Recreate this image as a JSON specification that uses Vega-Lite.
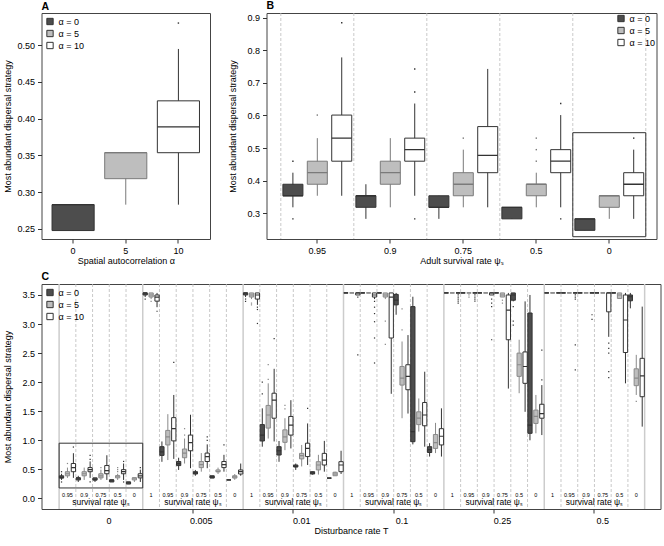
{
"$schema": "https://vega.github.io/schema/vega-lite/v6.json",
"padding": {"left": 2.5, "top": 0, "right": 0, "bottom": 0},
"config": {
 "view": {"stroke": "#444444", "strokeWidth": 1},
 "font": "Liberation Sans",
 "axis": {"labelFont": "Liberation Sans", "titleFont": "Liberation Sans", "labelFontSize": 9, "titleFontSize": 9, "titleFontWeight": "normal", "labelColor": "#000000", "titleColor": "#000000", "tickColor": "#333333", "tickSize": 4, "domain": false, "grid": false, "labelOverlap": false},
 "axisY": {"labelPadding": 3, "titlePadding": 9.7, "labelOverlap": false, "tickCount": 20},
 "axisX": {"labelPadding": 3, "titlePadding": 1, "labelAngle": 0},
 "title": {"font": "Liberation Sans", "fontSize": 10.5, "fontWeight": "bold", "anchor": "start", "frame": "group", "offset": 1, "color": "#000000"},
 "legend": {"symbolType": "square", "labelFont": "Liberation Sans", "labelFontSize": 9, "symbolSize": 40, "symbolStrokeColor": "#333333", "symbolStrokeWidth": 1, "rowPadding": 1, "offset": 4, "padding": 0, "labelOffset": 4, "labelColor": "#000000"},
 "text": {"font": "Liberation Sans"}
},
"datasets": {
 "B": [
  {"s":"0.95","a":0,"lo":0.3182,"q1":0.3536,"med":0.3536,"q3":0.3889,"hi":0.4243},
  {"s":"0.95","a":5,"lo":0.3536,"q1":0.3889,"med":0.4243,"q3":0.4596,"hi":0.5303},
  {"s":"0.95","a":10,"lo":0.3536,"q1":0.4596,"med":0.5303,"q3":0.6010,"hi":0.7778},
  {"s":"0.9","a":0,"lo":0.2828,"q1":0.3182,"med":0.3536,"q3":0.3536,"hi":0.3889},
  {"s":"0.9","a":5,"lo":0.3182,"q1":0.3889,"med":0.4243,"q3":0.4596,"hi":0.5303},
  {"s":"0.9","a":10,"lo":0.3536,"q1":0.4596,"med":0.4950,"q3":0.5303,"hi":0.6364},
  {"s":"0.75","a":0,"lo":0.2828,"q1":0.3182,"med":0.3182,"q3":0.3536,"hi":0.3536},
  {"s":"0.75","a":5,"lo":0.3182,"q1":0.3536,"med":0.3889,"q3":0.4243,"hi":0.4950},
  {"s":"0.75","a":10,"lo":0.3182,"q1":0.4243,"med":0.4773,"q3":0.5657,"hi":0.7425},
  {"s":"0.5","a":0,"lo":0.2828,"q1":0.2828,"med":0.3182,"q3":0.3182,"hi":0.3182},
  {"s":"0.5","a":5,"lo":0.3182,"q1":0.3536,"med":0.3889,"q3":0.3889,"hi":0.4243},
  {"s":"0.5","a":10,"lo":0.3182,"q1":0.4243,"med":0.4596,"q3":0.4950,"hi":0.6010},
  {"s":"0","a":0,"lo":0.2475,"q1":0.2475,"med":0.2828,"q3":0.2828,"hi":0.2828},
  {"s":"0","a":5,"lo":0.2828,"q1":0.3182,"med":0.3536,"q3":0.3536,"hi":0.3536},
  {"s":"0","a":10,"lo":0.2828,"q1":0.3536,"med":0.3889,"q3":0.4243,"hi":0.4950}
 ],
 "Bout": [
  {"s":"0.95","a":0,"v":0.4596},{"s":"0.95","a":0,"v":0.2828},{"s":"0.95","a":5,"v":0.6010},{"s":"0.95","a":10,"v":0.8839},
  {"s":"0.9","a":10,"v":0.6718},{"s":"0.9","a":10,"v":0.7425},{"s":"0.9","a":10,"v":0.2828},
  {"s":"0.75","a":5,"v":0.5303},
  {"s":"0.5","a":5,"v":0.4596},{"s":"0.5","a":5,"v":0.4950},{"s":"0.5","a":5,"v":0.5303},{"s":"0.5","a":10,"v":0.6364},{"s":"0.5","a":10,"v":0.2828},
  {"s":"0","a":10,"v":0.5303}
 ],
 "Bcat": [{"s":"0.95"},{"s":"0.9"},{"s":"0.75"},{"s":"0.5"},{"s":"0"}],
 "C": [
  {"sg":"0|0.95","a":0,"lo":0.3182,"q1":0.3536,"med":0.3536,"q3":0.3889,"hi":0.4243},
  {"sg":"0|0.95","a":5,"lo":0.3536,"q1":0.3889,"med":0.4243,"q3":0.4596,"hi":0.5303},
  {"sg":"0|0.95","a":10,"lo":0.3536,"q1":0.4596,"med":0.5303,"q3":0.6010,"hi":0.7778},
  {"sg":"0|0.9","a":0,"lo":0.2828,"q1":0.3182,"med":0.3536,"q3":0.3536,"hi":0.3889},
  {"sg":"0|0.9","a":5,"lo":0.3182,"q1":0.3889,"med":0.4243,"q3":0.4596,"hi":0.5303},
  {"sg":"0|0.9","a":10,"lo":0.3536,"q1":0.4596,"med":0.4950,"q3":0.5303,"hi":0.6364},
  {"sg":"0|0.75","a":0,"lo":0.2828,"q1":0.3182,"med":0.3182,"q3":0.3536,"hi":0.3536},
  {"sg":"0|0.75","a":5,"lo":0.3182,"q1":0.3536,"med":0.3889,"q3":0.4243,"hi":0.4950},
  {"sg":"0|0.75","a":10,"lo":0.3182,"q1":0.4243,"med":0.4773,"q3":0.5657,"hi":0.7425},
  {"sg":"0|0.5","a":0,"lo":0.2828,"q1":0.2828,"med":0.3182,"q3":0.3182,"hi":0.3182},
  {"sg":"0|0.5","a":5,"lo":0.3182,"q1":0.3536,"med":0.3889,"q3":0.3889,"hi":0.4243},
  {"sg":"0|0.5","a":10,"lo":0.3182,"q1":0.4243,"med":0.4596,"q3":0.4950,"hi":0.6010},
  {"sg":"0|0","a":0,"lo":0.2475,"q1":0.2475,"med":0.2828,"q3":0.2828,"hi":0.2828},
  {"sg":"0|0","a":5,"lo":0.2828,"q1":0.3182,"med":0.3536,"q3":0.3536,"hi":0.3536},
  {"sg":"0|0","a":10,"lo":0.2828,"q1":0.3536,"med":0.3889,"q3":0.4243,"hi":0.4950},

  {"sg":"0.005|1","a":0,"lo":3.4648,"q1":3.5001,"med":3.5355,"q3":3.5355,"hi":3.5355},
  {"sg":"0.005|1","a":5,"lo":3.4294,"q1":3.4648,"med":3.5001,"q3":3.5355,"hi":3.5355},
  {"sg":"0.005|1","a":10,"lo":3.29,"q1":3.3941,"med":3.4648,"q3":3.5001,"hi":3.5355},
  {"sg":"0.005|0.95","a":0,"lo":0.63,"q1":0.74,"med":0.80,"q3":0.89,"hi":0.98},
  {"sg":"0.005|0.95","a":5,"lo":0.66,"q1":0.92,"med":1.06,"q3":1.17,"hi":1.45},
  {"sg":"0.005|0.95","a":10,"lo":0.68,"q1":0.99,"med":1.20,"q3":1.39,"hi":1.78},
  {"sg":"0.005|0.9","a":0,"lo":0.49,"q1":0.565,"med":0.60,"q3":0.635,"hi":0.70},
  {"sg":"0.005|0.9","a":5,"lo":0.60,"q1":0.70,"med":0.78,"q3":0.85,"hi":1.03},
  {"sg":"0.005|0.9","a":10,"lo":0.52,"q1":0.82,"med":0.96,"q3":1.09,"hi":1.44},
  {"sg":"0.005|0.75","a":0,"lo":0.39,"q1":0.42,"med":0.44,"q3":0.46,"hi":0.49},
  {"sg":"0.005|0.75","a":5,"lo":0.46,"q1":0.53,"med":0.58,"q3":0.635,"hi":0.78},
  {"sg":"0.005|0.75","a":10,"lo":0.52,"q1":0.635,"med":0.72,"q3":0.78,"hi":0.93},
  {"sg":"0.005|0.5","a":0,"lo":0.35,"q1":0.35,"med":0.37,"q3":0.39,"hi":0.39},
  {"sg":"0.005|0.5","a":5,"lo":0.42,"q1":0.46,"med":0.46,"q3":0.49,"hi":0.53},
  {"sg":"0.005|0.5","a":10,"lo":0.46,"q1":0.53,"med":0.58,"q3":0.635,"hi":0.75},
  {"sg":"0.005|0","a":0,"lo":0.3182,"q1":0.3182,"med":0.3182,"q3":0.3182,"hi":0.3182},
  {"sg":"0.005|0","a":5,"lo":0.32,"q1":0.35,"med":0.37,"q3":0.39,"hi":0.42},
  {"sg":"0.005|0","a":10,"lo":0.39,"q1":0.42,"med":0.46,"q3":0.49,"hi":0.60},

  {"sg":"0.01|1","a":0,"lo":3.4648,"q1":3.5001,"med":3.5355,"q3":3.5355,"hi":3.5355},
  {"sg":"0.01|1","a":5,"lo":3.4294,"q1":3.4648,"med":3.5001,"q3":3.5355,"hi":3.5355},
  {"sg":"0.01|1","a":10,"lo":3.33,"q1":3.4294,"med":3.5001,"q3":3.5355,"hi":3.5355},
  {"sg":"0.01|0.95","a":0,"lo":0.89,"q1":0.988,"med":1.09,"q3":1.27,"hi":1.55},
  {"sg":"0.01|0.95","a":5,"lo":1.03,"q1":1.21,"med":1.435,"q3":1.60,"hi":1.98},
  {"sg":"0.01|0.95","a":10,"lo":0.98,"q1":1.38,"med":1.69,"q3":1.81,"hi":2.23},
  {"sg":"0.01|0.9","a":0,"lo":0.63,"q1":0.747,"med":0.82,"q3":0.89,"hi":0.988},
  {"sg":"0.01|0.9","a":5,"lo":0.83,"q1":0.965,"med":1.06,"q3":1.18,"hi":1.38},
  {"sg":"0.01|0.9","a":10,"lo":0.86,"q1":1.09,"med":1.26,"q3":1.41,"hi":1.69},
  {"sg":"0.01|0.75","a":0,"lo":0.49,"q1":0.54,"med":0.55,"q3":0.575,"hi":0.60},
  {"sg":"0.01|0.75","a":5,"lo":0.55,"q1":0.68,"med":0.735,"q3":0.775,"hi":0.92},
  {"sg":"0.01|0.75","a":10,"lo":0.575,"q1":0.72,"med":0.86,"q3":0.95,"hi":1.29},
  {"sg":"0.01|0.5","a":0,"lo":0.41,"q1":0.42,"med":0.44,"q3":0.46,"hi":0.46},
  {"sg":"0.01|0.5","a":5,"lo":0.41,"q1":0.49,"med":0.575,"q3":0.632,"hi":0.75},
  {"sg":"0.01|0.5","a":10,"lo":0.46,"q1":0.575,"med":0.66,"q3":0.775,"hi":0.99},
  {"sg":"0.01|0","a":0,"lo":0.35,"q1":0.35,"med":0.35,"q3":0.35,"hi":0.35},
  {"sg":"0.01|0","a":5,"lo":0.39,"q1":0.39,"med":0.42,"q3":0.45,"hi":0.46},
  {"sg":"0.01|0","a":10,"lo":0.42,"q1":0.46,"med":0.575,"q3":0.632,"hi":0.82},

  {"sg":"0.1|1","a":0,"lo":3.5355,"q1":3.5355,"med":3.5355,"q3":3.5355,"hi":3.5355},
  {"sg":"0.1|1","a":5,"lo":3.5355,"q1":3.5355,"med":3.5355,"q3":3.5355,"hi":3.5355},
  {"sg":"0.1|1","a":10,"lo":3.5001,"q1":3.5001,"med":3.5355,"q3":3.5355,"hi":3.5355},
  {"sg":"0.1|0.95","a":0,"lo":3.5355,"q1":3.5355,"med":3.5355,"q3":3.5355,"hi":3.5355},
  {"sg":"0.1|0.95","a":5,"lo":3.5355,"q1":3.5355,"med":3.5355,"q3":3.5355,"hi":3.5355},
  {"sg":"0.1|0.95","a":10,"lo":3.4294,"q1":3.4648,"med":3.5001,"q3":3.5355,"hi":3.5355},
  {"sg":"0.1|0.9","a":0,"lo":3.5355,"q1":3.5355,"med":3.5355,"q3":3.5355,"hi":3.5355},
  {"sg":"0.1|0.9","a":5,"lo":3.4294,"q1":3.4648,"med":3.5001,"q3":3.5355,"hi":3.5355},
  {"sg":"0.1|0.9","a":10,"lo":1.80,"q1":2.76,"med":3.4648,"q3":3.5355,"hi":3.5355},
  {"sg":"0.1|0.75","a":0,"lo":3.16,"q1":3.33,"med":3.41,"q3":3.51,"hi":3.5355},
  {"sg":"0.1|0.75","a":5,"lo":1.38,"q1":1.95,"med":2.07,"q3":2.27,"hi":2.70},
  {"sg":"0.1|0.75","a":10,"lo":1.46,"q1":1.87,"med":2.10,"q3":2.30,"hi":2.81},
  {"sg":"0.1|0.5","a":0,"lo":0.93,"q1":0.976,"med":1.15,"q3":3.30,"hi":3.47},
  {"sg":"0.1|0.5","a":5,"lo":1.15,"q1":1.27,"med":1.38,"q3":1.49,"hi":1.72},
  {"sg":"0.1|0.5","a":10,"lo":0.89,"q1":1.25,"med":1.435,"q3":1.65,"hi":2.18},
  {"sg":"0.1|0","a":0,"lo":0.72,"q1":0.79,"med":0.84,"q3":0.89,"hi":0.95},
  {"sg":"0.1|0","a":5,"lo":0.78,"q1":0.86,"med":0.96,"q3":1.10,"hi":1.30},
  {"sg":"0.1|0","a":10,"lo":0.72,"q1":0.92,"med":1.07,"q3":1.20,"hi":1.55},

  {"sg":"0.25|1","a":0,"lo":3.5355,"q1":3.5355,"med":3.5355,"q3":3.5355,"hi":3.5355},
  {"sg":"0.25|1","a":5,"lo":3.5355,"q1":3.5355,"med":3.5355,"q3":3.5355,"hi":3.5355},
  {"sg":"0.25|1","a":10,"lo":3.5355,"q1":3.5355,"med":3.5355,"q3":3.5355,"hi":3.5355},
  {"sg":"0.25|0.95","a":0,"lo":3.5355,"q1":3.5355,"med":3.5355,"q3":3.5355,"hi":3.5355},
  {"sg":"0.25|0.95","a":5,"lo":3.5355,"q1":3.5355,"med":3.5355,"q3":3.5355,"hi":3.5355},
  {"sg":"0.25|0.95","a":10,"lo":3.5355,"q1":3.5355,"med":3.5355,"q3":3.5355,"hi":3.5355},
  {"sg":"0.25|0.9","a":0,"lo":3.5355,"q1":3.5355,"med":3.5355,"q3":3.5355,"hi":3.5355},
  {"sg":"0.25|0.9","a":5,"lo":3.5355,"q1":3.5355,"med":3.5355,"q3":3.5355,"hi":3.5355},
  {"sg":"0.25|0.9","a":10,"lo":3.5001,"q1":3.5001,"med":3.5355,"q3":3.5355,"hi":3.5355},
  {"sg":"0.25|0.75","a":0,"lo":3.5355,"q1":3.5355,"med":3.5355,"q3":3.5355,"hi":3.5355},
  {"sg":"0.25|0.75","a":5,"lo":3.4648,"q1":3.4648,"med":3.5001,"q3":3.5355,"hi":3.5355},
  {"sg":"0.25|0.75","a":10,"lo":1.89,"q1":2.73,"med":3.24,"q3":3.5001,"hi":3.5355},
  {"sg":"0.25|0.5","a":0,"lo":3.39,"q1":3.41,"med":3.5001,"q3":3.5355,"hi":3.5355},
  {"sg":"0.25|0.5","a":5,"lo":1.81,"q1":2.10,"med":2.30,"q3":2.50,"hi":2.73},
  {"sg":"0.25|0.5","a":10,"lo":1.49,"q1":1.98,"med":2.27,"q3":2.52,"hi":3.39},
  {"sg":"0.25|0","a":0,"lo":1.00,"q1":1.12,"med":1.26,"q3":3.19,"hi":3.5001},
  {"sg":"0.25|0","a":5,"lo":1.12,"q1":1.29,"med":1.41,"q3":1.52,"hi":1.78},
  {"sg":"0.25|0","a":10,"lo":1.09,"q1":1.38,"med":1.46,"q3":1.62,"hi":1.95},

  {"sg":"0.5|1","a":0,"lo":3.5355,"q1":3.5355,"med":3.5355,"q3":3.5355,"hi":3.5355},
  {"sg":"0.5|1","a":5,"lo":3.5355,"q1":3.5355,"med":3.5355,"q3":3.5355,"hi":3.5355},
  {"sg":"0.5|1","a":10,"lo":3.5355,"q1":3.5355,"med":3.5355,"q3":3.5355,"hi":3.5355},
  {"sg":"0.5|0.95","a":0,"lo":3.5355,"q1":3.5355,"med":3.5355,"q3":3.5355,"hi":3.5355},
  {"sg":"0.5|0.95","a":5,"lo":3.5355,"q1":3.5355,"med":3.5355,"q3":3.5355,"hi":3.5355},
  {"sg":"0.5|0.95","a":10,"lo":3.5355,"q1":3.5355,"med":3.5355,"q3":3.5355,"hi":3.5355},
  {"sg":"0.5|0.9","a":0,"lo":3.5355,"q1":3.5355,"med":3.5355,"q3":3.5355,"hi":3.5355},
  {"sg":"0.5|0.9","a":5,"lo":3.5355,"q1":3.5355,"med":3.5355,"q3":3.5355,"hi":3.5355},
  {"sg":"0.5|0.9","a":10,"lo":3.5355,"q1":3.5355,"med":3.5355,"q3":3.5355,"hi":3.5355},
  {"sg":"0.5|0.75","a":0,"lo":3.5355,"q1":3.5355,"med":3.5355,"q3":3.5355,"hi":3.5355},
  {"sg":"0.5|0.75","a":5,"lo":3.5355,"q1":3.5355,"med":3.5355,"q3":3.5355,"hi":3.5355},
  {"sg":"0.5|0.75","a":10,"lo":2.78,"q1":3.21,"med":3.5355,"q3":3.5355,"hi":3.5355},
  {"sg":"0.5|0.5","a":0,"lo":3.5355,"q1":3.5355,"med":3.5355,"q3":3.5355,"hi":3.5355},
  {"sg":"0.5|0.5","a":5,"lo":3.44,"q1":3.44,"med":3.5001,"q3":3.5355,"hi":3.5355},
  {"sg":"0.5|0.5","a":10,"lo":1.98,"q1":2.51,"med":3.07,"q3":3.5001,"hi":3.5355},
  {"sg":"0.5|0","a":0,"lo":3.27,"q1":3.40,"med":3.47,"q3":3.5001,"hi":3.5355},
  {"sg":"0.5|0","a":5,"lo":1.78,"q1":1.94,"med":2.07,"q3":2.23,"hi":2.47},
  {"sg":"0.5|0","a":10,"lo":1.235,"q1":1.75,"med":2.11,"q3":2.41,"hi":3.30}
 ],
 "Cout": [
  {"sg":"0|0.95","a":0,"v":0.4596},{"sg":"0|0.95","a":0,"v":0.2828},{"sg":"0|0.95","a":5,"v":0.6010},{"sg":"0|0.95","a":10,"v":0.8839},
  {"sg":"0|0.9","a":10,"v":0.6718},{"sg":"0|0.9","a":10,"v":0.7425},{"sg":"0|0.9","a":10,"v":0.2828},
  {"sg":"0|0.75","a":5,"v":0.5303},
  {"sg":"0|0.5","a":5,"v":0.4596},{"sg":"0|0.5","a":5,"v":0.4950},{"sg":"0|0.5","a":5,"v":0.5303},{"sg":"0|0.5","a":10,"v":0.6364},{"sg":"0|0.5","a":10,"v":0.2828},
  {"sg":"0|0","a":10,"v":0.5303},
  {"sg":"0.005|1","a":0,"v":3.43},{"sg":"0.005|1","a":5,"v":3.39},{"sg":"0.005|1","a":10,"v":3.22},
  {"sg":"0.005|0.95","a":10,"v":2.34},
  {"sg":"0.005|0.9","a":5,"v":1.20},{"sg":"0.005|0.9","a":5,"v":1.09},
  {"sg":"0.005|0.75","a":10,"v":1.06},{"sg":"0.005|0.75","a":10,"v":1.00},
  {"sg":"0.005|0.5","a":10,"v":0.92},
  {"sg":"0.01|1","a":0,"v":3.43},{"sg":"0.01|1","a":0,"v":3.39},{"sg":"0.01|1","a":5,"v":3.36},{"sg":"0.01|1","a":5,"v":3.33},
  {"sg":"0.01|1","a":10,"v":3.29},{"sg":"0.01|1","a":10,"v":3.25},{"sg":"0.01|1","a":10,"v":3.01},
  {"sg":"0.01|0.95","a":0,"v":1.80},{"sg":"0.01|0.95","a":0,"v":2.00},{"sg":"0.01|0.95","a":5,"v":2.30},{"sg":"0.01|0.95","a":5,"v":2.05},{"sg":"0.01|0.95","a":10,"v":2.75},
  {"sg":"0.01|0.9","a":5,"v":1.60},{"sg":"0.01|0.9","a":5,"v":1.54},
  {"sg":"0.01|0.75","a":10,"v":1.55},
  {"sg":"0.1|1","a":10,"v":3.4648},{"sg":"0.1|1","a":10,"v":2.47},
  {"sg":"0.1|0.95","a":10,"v":3.39},{"sg":"0.1|0.95","a":10,"v":3.29},{"sg":"0.1|0.95","a":10,"v":3.18},{"sg":"0.1|0.95","a":10,"v":3.04},{"sg":"0.1|0.95","a":10,"v":2.76},{"sg":"0.1|0.95","a":10,"v":2.33},
  {"sg":"0.1|0.9","a":5,"v":3.05},{"sg":"0.1|0.9","a":5,"v":2.65},
  {"sg":"0.1|0.75","a":5,"v":3.26},{"sg":"0.1|0.75","a":5,"v":2.90},
  {"sg":"0.25|1","a":10,"v":3.5001},{"sg":"0.25|1","a":10,"v":3.4648},{"sg":"0.25|1","a":10,"v":3.4294},{"sg":"0.25|1","a":10,"v":3.3941},{"sg":"0.25|1","a":10,"v":3.3587},
  {"sg":"0.25|0.95","a":10,"v":3.5001},{"sg":"0.25|0.95","a":10,"v":3.4648},{"sg":"0.25|0.95","a":10,"v":3.4294},{"sg":"0.25|0.95","a":10,"v":3.3941},
  {"sg":"0.25|0.95","a":5,"v":3.5001},{"sg":"0.25|0.95","a":5,"v":3.4648},
  {"sg":"0.25|0.9","a":10,"v":3.43},{"sg":"0.25|0.9","a":10,"v":3.36},{"sg":"0.25|0.9","a":10,"v":3.30},{"sg":"0.25|0.9","a":10,"v":2.73},
  {"sg":"0.25|0.75","a":5,"v":3.41},{"sg":"0.25|0.75","a":5,"v":3.36},
  {"sg":"0.25|0.5","a":0,"v":3.30},{"sg":"0.25|0.5","a":0,"v":3.05},{"sg":"0.25|0.5","a":0,"v":2.98},
  {"sg":"0.25|0","a":10,"v":2.55},{"sg":"0.25|0","a":10,"v":2.04},
  {"sg":"0.5|0.95","a":10,"v":3.5001},{"sg":"0.5|0.95","a":10,"v":3.4648},{"sg":"0.5|0.95","a":10,"v":3.4294},{"sg":"0.5|0.95","a":10,"v":2.64},{"sg":"0.5|0.95","a":10,"v":2.21},
  {"sg":"0.5|0.9","a":10,"v":3.16},{"sg":"0.5|0.9","a":10,"v":3.08},
  {"sg":"0.5|0.75","a":10,"v":2.67},{"sg":"0.5|0.75","a":10,"v":2.58},{"sg":"0.5|0.75","a":10,"v":2.50},{"sg":"0.5|0.75","a":10,"v":2.18},{"sg":"0.5|0.75","a":10,"v":2.08},
  {"sg":"0.5|0","a":5,"v":1.67}
 ],
 "Csub": [
  {"sg":"0|0.95","s":"0.95","start":true},{"sg":"0|0.9","s":"0.9","start":false},{"sg":"0|0.75","s":"0.75","start":false},{"sg":"0|0.5","s":"0.5","start":false},{"sg":"0|0","s":"0","start":false},
  {"sg":"0.005|1","s":"1","start":true},{"sg":"0.005|0.95","s":"0.95","start":false},{"sg":"0.005|0.9","s":"0.9","start":false},{"sg":"0.005|0.75","s":"0.75","start":false},{"sg":"0.005|0.5","s":"0.5","start":false},{"sg":"0.005|0","s":"0","start":false},
  {"sg":"0.01|1","s":"1","start":true},{"sg":"0.01|0.95","s":"0.95","start":false},{"sg":"0.01|0.9","s":"0.9","start":false},{"sg":"0.01|0.75","s":"0.75","start":false},{"sg":"0.01|0.5","s":"0.5","start":false},{"sg":"0.01|0","s":"0","start":false},
  {"sg":"0.1|1","s":"1","start":true},{"sg":"0.1|0.95","s":"0.95","start":false},{"sg":"0.1|0.9","s":"0.9","start":false},{"sg":"0.1|0.75","s":"0.75","start":false},{"sg":"0.1|0.5","s":"0.5","start":false},{"sg":"0.1|0","s":"0","start":false},
  {"sg":"0.25|1","s":"1","start":true},{"sg":"0.25|0.95","s":"0.95","start":false},{"sg":"0.25|0.9","s":"0.9","start":false},{"sg":"0.25|0.75","s":"0.75","start":false},{"sg":"0.25|0.5","s":"0.5","start":false},{"sg":"0.25|0","s":"0","start":false},
  {"sg":"0.5|1","s":"1","start":true},{"sg":"0.5|0.95","s":"0.95","start":false},{"sg":"0.5|0.9","s":"0.9","start":false},{"sg":"0.5|0.75","s":"0.75","start":false},{"sg":"0.5|0.5","s":"0.5","start":false},{"sg":"0.5|0","s":"0","start":false}
 ],
 "Cgrp": [
  {"T":"0","sg":"0|0.75"},{"T":"0.005","sg":"0.005|0.9"},{"T":"0.01","sg":"0.01|0.9"},{"T":"0.1","sg":"0.1|0.9"},{"T":"0.25","sg":"0.25|0.9"},{"T":"0.5","sg":"0.5|0.9"}
 ]
},
"concat": [
 {
  "hconcat": [
   {
    "width": 168.5, "height": 226,
    "title": {"text": "A"},
    "layer": [
     {"data": {"name": "B"}, "transform": [{"filter": "datum.s == '0'"}],
      "mark": {"type": "rule", "strokeWidth": 1},
      "encoding": {
       "x": {"field": "a", "type": "ordinal", "title": "Spatial autocorrelation α", "scale": {"type": "band", "domain": [0, 5, 10], "paddingInner": 0.2, "paddingOuter": 0.2}, "axis": {"labelAngle": 0}},
       "y": {"field": "lo", "type": "quantitative", "title": "Most abundant dispersal strategy", "scale": {"domain": [0.236, 0.544], "nice": false, "zero": false}, "axis": {"values": [0.25, 0.3, 0.35, 0.4, 0.45, 0.5], "format": ".2f", "titlePadding": 4.7, "labelOverlap": false, "tickCount": 20}},
       "y2": {"field": "hi"},
       "stroke": {"condition": {"test": "datum.a == 5", "value": "#7a7a7a"}, "value": "#333333"}
      }},
     {"data": {"name": "B"}, "transform": [{"filter": "datum.s == '0'"}],
      "mark": {"type": "bar", "strokeWidth": 1},
      "encoding": {
       "x": {"field": "a", "type": "ordinal", "title": "Spatial autocorrelation α"},
       "y": {"field": "q1", "type": "quantitative", "title": "Most abundant dispersal strategy"},
       "y2": {"field": "q3"},
       "fill": {"field": "a", "type": "nominal", "scale": {"domain": [0, 5, 10], "range": ["#4d4d4d", "#bebebe", "#ffffff"]}, "legend": {"orient": "top-left", "title": null, "labelExpr": "'α = ' + datum.label"}},
       "stroke": {"condition": {"test": "datum.a == 5", "value": "#7a7a7a"}, "value": "#333333"}
      }},
     {"data": {"name": "B"}, "transform": [{"filter": "datum.s == '0'"}],
      "mark": {"type": "bar", "fillOpacity": 0, "strokeWidth": 1.3},
      "encoding": {
       "x": {"field": "a", "type": "ordinal", "title": "Spatial autocorrelation α"},
       "y": {"field": "med", "type": "quantitative", "title": "Most abundant dispersal strategy"},
       "y2": {"field": "med"},
       "stroke": {"condition": {"test": "datum.a == 5", "value": "#7a7a7a"}, "value": "#333333"}
      }},
     {"data": {"name": "Bout"}, "transform": [{"filter": "datum.s == '0'"}],
      "mark": {"type": "point", "shape": "square", "filled": true, "size": 2, "opacity": 1},
      "encoding": {
       "x": {"field": "a", "type": "ordinal", "title": "Spatial autocorrelation α"},
       "y": {"field": "v", "type": "quantitative", "title": "Most abundant dispersal strategy"},
       "fill": {"condition": {"test": "datum.a == 5", "value": "#7a7a7a"}, "value": "#333333"}
      }}
    ]
   },
   {
    "width": 390, "height": 226,
    "title": {"text": "B"},
    "layer": [
     {"data": {"name": "B"},
      "mark": {"type": "rule", "strokeWidth": 1},
      "encoding": {
       "x": {"field": "s", "type": "nominal", "title": "Adult survival rate ψₛ", "scale": {"type": "band", "domain": ["0.95", "0.9", "0.75", "0.5", "0"], "paddingInner": 0, "paddingOuter": 0.1715, "align": 0.572}, "axis": {"labelAngle": 0}},
       "xOffset": {"field": "a", "type": "nominal", "scale": {"domain": [0, 5, 10], "paddingInner": 0.18, "paddingOuter": 0.085}},
       "y": {"field": "lo", "type": "quantitative", "title": "Most abundant dispersal strategy", "scale": {"domain": [0.221, 0.914], "nice": false, "zero": false}, "axis": {"values": [0.3, 0.4, 0.5, 0.6, 0.7, 0.8, 0.9], "format": ".1f", "labelOverlap": false, "tickCount": 20}},
       "y2": {"field": "hi"},
       "stroke": {"condition": {"test": "datum.a == 5", "value": "#7a7a7a"}, "value": "#333333"}
      }},
     {"data": {"name": "Bcat"},
      "mark": {"type": "rule", "color": "#bbbbbb", "strokeDash": [3, 2], "strokeWidth": 0.8},
      "encoding": {
       "x": {"field": "s", "type": "nominal", "bandPosition": 0, "title": "Adult survival rate ψₛ"}
      }},
     {"data": {"name": "Bcat"}, "transform": [{"filter": "datum.s == '0'"}],
      "mark": {"type": "rule", "color": "#bbbbbb", "strokeDash": [3, 2], "strokeWidth": 0.8},
      "encoding": {
       "x": {"field": "s", "type": "nominal", "bandPosition": 1, "title": "Adult survival rate ψₛ"}
      }},
     {"data": {"name": "Bcat"}, "transform": [{"filter": "datum.s == '0'"}],
      "mark": {"type": "bar", "fillOpacity": 0, "stroke": "#333333", "strokeWidth": 1},
      "encoding": {
       "x": {"field": "s", "type": "nominal", "title": "Adult survival rate ψₛ"},
       "y": {"datum": 0.228, "type": "quantitative", "title": "Most abundant dispersal strategy"},
       "y2": {"datum": 0.547}
      }},
     {"data": {"name": "B"},
      "mark": {"type": "bar", "strokeWidth": 1},
      "encoding": {
       "x": {"field": "s", "type": "nominal", "title": "Adult survival rate ψₛ"},
       "xOffset": {"field": "a", "type": "nominal"},
       "y": {"field": "q1", "type": "quantitative", "title": "Most abundant dispersal strategy"},
       "y2": {"field": "q3"},
       "fill": {"field": "a", "type": "nominal", "scale": {"domain": [0, 5, 10], "range": ["#4d4d4d", "#bebebe", "#ffffff"]}, "legend": {"orient": "top-right", "title": null, "labelExpr": "'α = ' + datum.label", "offset": 1}},
       "stroke": {"condition": {"test": "datum.a == 5", "value": "#7a7a7a"}, "value": "#333333"}
      }},
     {"data": {"name": "B"},
      "mark": {"type": "bar", "fillOpacity": 0, "strokeWidth": 1.3},
      "encoding": {
       "x": {"field": "s", "type": "nominal", "title": "Adult survival rate ψₛ"},
       "xOffset": {"field": "a", "type": "nominal"},
       "y": {"field": "med", "type": "quantitative", "title": "Most abundant dispersal strategy"},
       "y2": {"field": "med"},
       "stroke": {"condition": {"test": "datum.a == 5", "value": "#7a7a7a"}, "value": "#333333"}
      }},
     {"data": {"name": "Bout"},
      "mark": {"type": "point", "shape": "square", "filled": true, "size": 2, "opacity": 1},
      "encoding": {
       "x": {"field": "s", "type": "nominal", "title": "Adult survival rate ψₛ"},
       "xOffset": {"field": "a", "type": "nominal"},
       "y": {"field": "v", "type": "quantitative", "title": "Most abundant dispersal strategy"},
       "fill": {"condition": {"test": "datum.a == 5", "value": "#7a7a7a"}, "value": "#333333"}
      }}
    ]
   }
  ],
  "spacing": 17,
  "resolve": {"scale": {"fill": "independent", "xOffset": "independent"}, "legend": {"fill": "independent"}}
 },
 {
  "width": 619, "height": 225,
  "title": {"text": "C"},
  "layer": [
   {"data": {"name": "C"},
    "mark": {"type": "rule", "strokeWidth": 1},
    "encoding": {
     "x": {"field": "sg", "type": "nominal", "title": "Disturbance rate T",
      "scale": {"type": "band", "paddingInner": 0, "paddingOuter": 1.349, "align": 0.526,
       "domain": ["0|0.95","0|0.9","0|0.75","0|0.5","0|0",
        "0.005|1","0.005|0.95","0.005|0.9","0.005|0.75","0.005|0.5","0.005|0",
        "0.01|1","0.01|0.95","0.01|0.9","0.01|0.75","0.01|0.5","0.01|0",
        "0.1|1","0.1|0.95","0.1|0.9","0.1|0.75","0.1|0.5","0.1|0",
        "0.25|1","0.25|0.95","0.25|0.9","0.25|0.75","0.25|0.5","0.25|0",
        "0.5|1","0.5|0.95","0.5|0.9","0.5|0.75","0.5|0.5","0.5|0"]},
      "axis": {"values": ["0|0.75","0.005|0.75","0.01|0.75","0.1|0.75","0.25|0.75","0.5|0.75"], "bandPosition": 0, "labelAngle": 0,
       "labelExpr": "slice(datum.value, 0, indexof(datum.value, '|'))",
       "labelOffset": {"condition": {"test": "datum.value == '0|0.75'", "value": 8.2}, "value": 0},
       "tickOpacity": {"condition": {"test": "datum.value == '0|0.75'", "value": 0}, "value": 1}}},
     "xOffset": {"field": "a", "type": "nominal", "scale": {"domain": [0, 5, 10], "paddingInner": 0.28, "paddingOuter": 0.05}},
     "y": {"field": "lo", "type": "quantitative", "title": "Most abundant dispersal strategy", "scale": {"domain": [-0.182, 3.689], "nice": false, "zero": false}, "axis": {"values": [0, 0.5, 1, 1.5, 2, 2.5, 3, 3.5], "format": ".1f", "labelOverlap": false, "tickCount": 20}},
     "y2": {"field": "hi"},
     "stroke": {"condition": {"test": "datum.a == 5", "value": "#8a8a8a"}, "value": "#333333"}
    }},
   {"data": {"name": "Csub"}, "transform": [{"filter": "!datum.start"}],
    "mark": {"type": "rule", "color": "#bbbbbb", "strokeDash": [3, 2], "strokeWidth": 0.8},
    "encoding": {
     "x": {"field": "sg", "type": "nominal", "bandPosition": 0, "title": "Disturbance rate T"}
    }},
   {"data": {"name": "Csub"}, "transform": [{"filter": "datum.start"}],
    "mark": {"type": "rule", "color": "#cccccc", "strokeWidth": 1.5},
    "encoding": {"x": {"field": "sg", "type": "nominal", "bandPosition": 0, "title": "Disturbance rate T"}}},
   {"data": {"name": "Csub"}, "transform": [{"filter": "datum.sg == '0.5|0'"}],
    "mark": {"type": "rule", "color": "#cccccc", "strokeWidth": 1.5},
    "encoding": {"x": {"field": "sg", "type": "nominal", "bandPosition": 1, "title": "Disturbance rate T"}}},
   {"data": {"name": "Csub"}, "transform": [{"filter": "datum.sg == '0|0.95'"}],
    "mark": {"type": "rect", "fillOpacity": 0, "stroke": "#333333", "strokeWidth": 1},
    "encoding": {
     "x": {"field": "sg", "type": "nominal", "bandPosition": 0, "title": "Disturbance rate T"},
     "x2": {"datum": "0|0", "bandPosition": 1},
     "y": {"datum": 0.18, "type": "quantitative", "title": "Most abundant dispersal strategy"},
     "y2": {"datum": 0.95}
    }},
   {"data": {"name": "C"},
    "mark": {"type": "bar", "strokeWidth": 1},
    "encoding": {
     "x": {"field": "sg", "type": "nominal", "title": "Disturbance rate T"},
     "xOffset": {"field": "a", "type": "nominal"},
     "y": {"field": "q1", "type": "quantitative", "title": "Most abundant dispersal strategy"},
     "y2": {"field": "q3"},
     "fill": {"field": "a", "type": "nominal", "scale": {"domain": [0, 5, 10], "range": ["#4d4d4d", "#bebebe", "#ffffff"]}, "legend": {"orient": "top-left", "title": null, "labelExpr": "'α = ' + datum.label"}},
     "stroke": {"condition": {"test": "datum.a == 5", "value": "#8a8a8a"}, "value": "#333333"}
    }},
   {"data": {"name": "C"},
    "mark": {"type": "bar", "fillOpacity": 0, "strokeWidth": 1.2},
    "encoding": {
     "x": {"field": "sg", "type": "nominal", "title": "Disturbance rate T"},
     "xOffset": {"field": "a", "type": "nominal"},
     "y": {"field": "med", "type": "quantitative", "title": "Most abundant dispersal strategy"},
     "y2": {"field": "med"},
     "stroke": {"condition": {"test": "datum.a == 5", "value": "#8a8a8a"}, "value": "#333333"}
    }},
   {"data": {"name": "Cout"},
    "mark": {"type": "point", "shape": "square", "filled": true, "size": 1.5, "opacity": 1},
    "encoding": {
     "x": {"field": "sg", "type": "nominal", "title": "Disturbance rate T"},
     "xOffset": {"field": "a", "type": "nominal"},
     "y": {"field": "v", "type": "quantitative", "title": "Most abundant dispersal strategy"},
     "fill": {"condition": {"test": "datum.a == 5", "value": "#8a8a8a"}, "value": "#333333"}
    }},
   {"data": {"name": "Csub"},
    "mark": {"type": "text", "fontSize": 5.5, "fill": "#000000", "baseline": "middle"},
    "encoding": {
     "x": {"field": "sg", "type": "nominal", "title": "Disturbance rate T"},
     "y": {"datum": 0.055, "type": "quantitative", "title": "Most abundant dispersal strategy"},
     "text": {"field": "s"}
    }},
   {"data": {"name": "Cgrp"}, "transform": [{"filter": "datum.T == '0'"}],
    "mark": {"type": "text", "fontSize": 8.5, "fill": "#000000", "baseline": "middle", "text": "survival rate ψₛ"},
    "encoding": {
     "x": {"field": "sg", "type": "nominal", "title": "Disturbance rate T"},
     "y": {"datum": -0.065, "type": "quantitative", "title": "Most abundant dispersal strategy"}
    }},
   {"data": {"name": "Cgrp"}, "transform": [{"filter": "datum.T != '0'"}],
    "mark": {"type": "text", "fontSize": 8.5, "fill": "#000000", "baseline": "middle", "text": "survival rate ψₛ"},
    "encoding": {
     "x": {"field": "sg", "type": "nominal", "bandPosition": 1, "title": "Disturbance rate T"},
     "y": {"datum": -0.065, "type": "quantitative", "title": "Most abundant dispersal strategy"}
    }}
  ]
 }
],
"columns": 1,
"align": "none",
"spacing": 5,
"resolve": {"scale": {"fill": "independent", "xOffset": "independent"}, "legend": {"fill": "independent"}}
}
